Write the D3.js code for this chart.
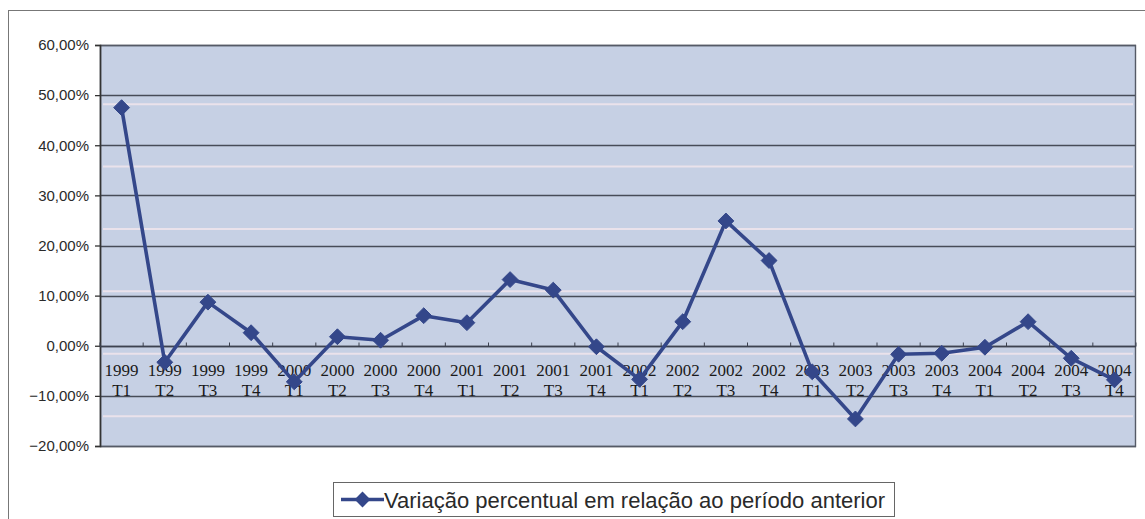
<!DOCTYPE html>
<html>
<head>
<meta charset="utf-8">
<script src="https://cdn.jsdelivr.net/npm/d3@7"></script>
<style>
  body { margin: 0; background: #fff; }
  svg { display: block; }
</style>
</head>
<body>
<div id="app"></div>
<script>
const width = 1145;
const height = 519;

const years = ["1999", "1999", "1999", "1999", "2000", "2000", "2000", "2000",
  "2001", "2001", "2001", "2001", "2002", "2002", "2002", "2002",
  "2003", "2003", "2003", "2003", "2004", "2004", "2004", "2004"];
const quarters = ["T1", "T2", "T3", "T4", "T1", "T2", "T3", "T4",
  "T1", "T2", "T3", "T4", "T1", "T2", "T3", "T4",
  "T1", "T2", "T3", "T4", "T1", "T2", "T3", "T4"];
// variação percentual (%)
const values = [47.5, -3.3, 8.7, 2.6, -7.2, 1.8, 1.1, 6.0,
  4.6, 13.2, 11.1, -0.2, -6.7, 4.8, 24.9, 17.0,
  -5.2, -14.6, -1.7, -1.5, -0.3, 4.8, -2.5, -6.8];
const yTicks = [60, 50, 40, 30, 20, 10, 0, -10, -20];
const seriesName = "Variação percentual em relação ao período anterior";

const margin = { left: 100, right: 9, top: 45, bottom: 73 };
const lineColor = "#34478a";

const svg = d3.select("#app").append("svg")
  .attr("width", width)
  .attr("height", height);

// chart frame
svg.append("rect")
  .attr("x", 8.5).attr("y", 10.5)
  .attr("width", width + 10).attr("height", height + 10)
  .attr("fill", "#fff")
  .attr("stroke", "#777").attr("stroke-width", 1);

const x = d3.scaleBand()
  .domain(d3.range(values.length))
  .range([margin.left, width - margin.right]);
const y = d3.scaleLinear()
  .domain([-20, 60])
  .range([height - margin.bottom, margin.top]);

// plot area
svg.append("rect")
  .attr("x", x.range()[0]).attr("y", y(60))
  .attr("width", x.range()[1] - x.range()[0])
  .attr("height", y(-20) - y(60))
  .attr("fill", "#c6d0e4");

// faint scan stripes
svg.append("g")
  .selectAll("line")
  .data(d3.range(6).map(i => 48.2 - i * 12.45))
  .join("line")
  .attr("x1", x.range()[0] + 3).attr("x2", x.range()[1] - 3)
  .attr("y1", d => y(d)).attr("y2", d => y(d))
  .attr("stroke", "#efe4ec").attr("stroke-width", 2).attr("opacity", 0.9);

// gridlines
svg.append("g")
  .selectAll("line")
  .data(yTicks)
  .join("line")
  .attr("x1", x.range()[0]).attr("x2", x.range()[1])
  .attr("y1", d => Math.round(y(d)) + 0.5).attr("y2", d => Math.round(y(d)) + 0.5)
  .attr("stroke", "#474c58").attr("stroke-width", 1.3);

// plot border
svg.append("rect")
  .attr("x", x.range()[0] + 0.5).attr("y", Math.round(y(60)) + 0.5)
  .attr("width", x.range()[1] - x.range()[0] - 1)
  .attr("height", Math.round(y(-20)) - Math.round(y(60)))
  .attr("fill", "none")
  .attr("stroke", "#555a66").attr("stroke-width", 1.4);

// y axis
const yAxis = svg.append("g")
  .attr("transform", `translate(${x.range()[0]},0)`)
  .call(d3.axisLeft(y).tickValues(yTicks).tickSize(5).tickPadding(6)
    .tickFormat(d => d3.format(".2f")(d).replace(".", ",") + "%"));
yAxis.select(".domain").attr("stroke", "#333").attr("stroke-width", 1.6);
yAxis.selectAll(".tick line").attr("stroke", "#333").attr("stroke-width", 1.3);
yAxis.selectAll("text")
  .attr("fill", "#2a2a2a")
  .style("font-family", "Arial, 'Liberation Sans', sans-serif")
  .style("font-size", "15px");

// category axis at zero
const y0 = Math.round(y(0)) + 0.5;
svg.append("line")
  .attr("x1", x.range()[0]).attr("x2", x.range()[1])
  .attr("y1", y0).attr("y2", y0)
  .attr("stroke", "#3d4250").attr("stroke-width", 1.5);
svg.append("g")
  .selectAll("line")
  .data(d3.range(values.length + 1))
  .join("line")
  .attr("x1", i => x.range()[0] + i * x.step())
  .attr("x2", i => x.range()[0] + i * x.step())
  .attr("y1", y0 - 4).attr("y2", y0)
  .attr("stroke", "#3d4250").attr("stroke-width", 1);

const labels = svg.append("g")
  .selectAll("text")
  .data(values.map((v, i) => i))
  .join("text")
  .attr("x", i => x(i) + x.bandwidth() / 2)
  .attr("text-anchor", "middle")
  .attr("fill", "#1a1a1a")
  .style("font-family", "'Liberation Serif', 'Times New Roman', serif")
  .style("font-size", "17px");
labels.append("tspan").attr("x", i => x(i) + x.bandwidth() / 2).attr("y", y0 + 29).text(i => years[i]);
labels.append("tspan").attr("x", i => x(i) + x.bandwidth() / 2).attr("y", y0 + 49).text(i => quarters[i]);

// series
const line = d3.line()
  .x((d, i) => x(i) + x.bandwidth() / 2)
  .y(d => y(d));
svg.append("path")
  .datum(values)
  .attr("d", line)
  .attr("fill", "none")
  .attr("stroke", lineColor)
  .attr("stroke-width", 3.6)
  .attr("stroke-linejoin", "round");

const diamond = d3.symbol().type(d3.symbolDiamond2).size(160);
svg.append("g")
  .selectAll("path")
  .data(values)
  .join("path")
  .attr("transform", (d, i) => `translate(${x(i) + x.bandwidth() / 2},${y(d)})`)
  .attr("d", diamond)
  .attr("fill", lineColor)
  .attr("stroke", lineColor)
  .attr("stroke-width", 1);

// legend
const legend = svg.append("g").attr("transform", "translate(333,482)");
legend.append("rect")
  .attr("x", 0.5).attr("y", 0.5)
  .attr("width", 561).attr("height", 34)
  .attr("fill", "#fff")
  .attr("stroke", "#666").attr("stroke-width", 1);
legend.append("line")
  .attr("x1", 8).attr("x2", 51).attr("y1", 17.5).attr("y2", 17.5)
  .attr("stroke", lineColor).attr("stroke-width", 3.6);
legend.append("path")
  .attr("transform", "translate(29.5,17.5)")
  .attr("d", diamond)
  .attr("fill", lineColor);
legend.append("text")
  .attr("x", 51).attr("y", 25.5)
  .attr("fill", "#2a2a2a")
  .style("font-family", "Arial, 'Liberation Sans', sans-serif")
  .style("font-size", "22px")
  .text(seriesName);
</script>
</body>
</html>
